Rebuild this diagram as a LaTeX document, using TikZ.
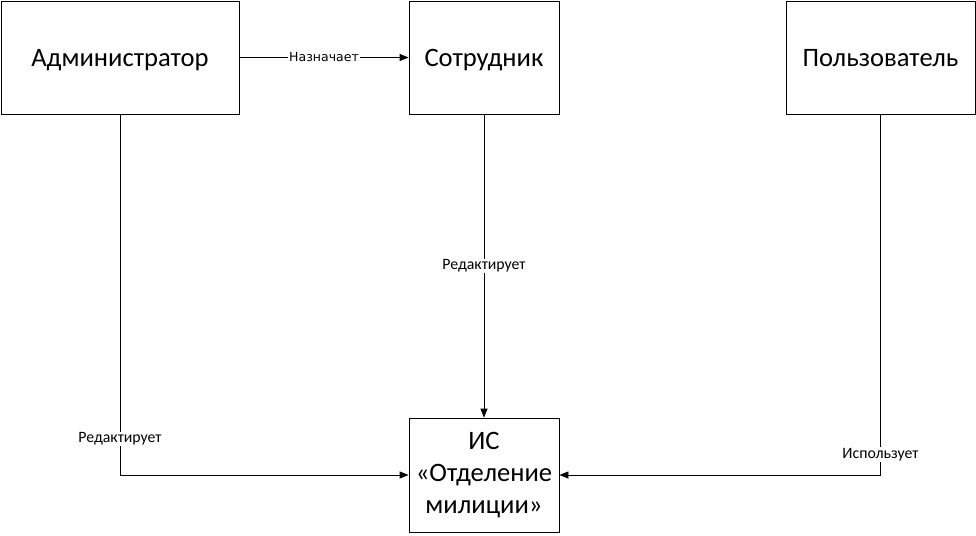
\documentclass[tikz,border=0pt]{standalone}
\usepackage{fontspec}
\setmainfont{Carlito}
\newfontfamily\labelfont{DejaVu Sans}
\usetikzlibrary{arrows.meta}
\tikzset{
    entity/.style={draw, thick, fill=white, align=center, font=\fontsize{26.6}{32}\selectfont, inner sep=0pt},
    oneline/.style={text height=21pt, text depth=3pt},
    link/.style={thick, -{Triangle[length=9pt,width=7pt]}},
    caption/.style={fill=white, inner sep=1pt, font=\fontsize{15.8}{18}\selectfont}
}
\begin{document}
\begin{tikzpicture}[x=1pt, y=-1pt]
    \useasboundingbox (0,0) rectangle (976,535);
    % Entities
    \node[entity, oneline, minimum width=238pt, minimum height=113pt] (admin) at (120,57.5) {Администратор};
    \node[entity, oneline, minimum width=150pt, minimum height=113pt] (staff) at (484,57.5) {Сотрудник};
    \node[entity, oneline, minimum width=189pt, minimum height=113pt] (user) at (880.5,57.5) {Пользователь};
    \node[entity, minimum width=150pt, minimum height=114pt] (is) at (484,475) {ИС\\«Отделение\\милиции»};
    % Links
    \draw[link] (admin.east) -- (staff.west) node[caption, pos=0.5, font=\labelfont\fontsize{12.5}{14}\selectfont] (assign) {Назначает};
    \draw[link] (staff.south) -- (is.north) node[caption, pos=0.5] (edit1) {Редактирует};
    \draw[link] (admin.south) |- (is.west) node[caption, pos=0.45] (edit2) {Редактирует};
    \draw[link] (user.south) |- (is.east) node[caption, pos=0.472] (use) {Использует};
\end{tikzpicture}
\end{document}
